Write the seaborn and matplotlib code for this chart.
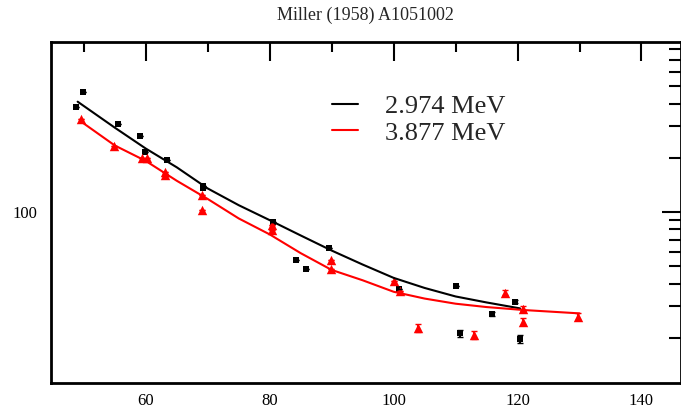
import matplotlib
matplotlib.use("Agg")
import matplotlib.pyplot as plt
from matplotlib.ticker import FixedLocator, NullFormatter, FixedFormatter
import seaborn as sns
import pandas as pd

# Measured angular distributions (angle in degrees, cross section)
sq_angle = [48.8, 49.8, 55.5, 59.1, 59.8, 63.4, 69.3, 69.3, 80.6, 84.3, 85.9, 89.6,
            100.9, 110.0, 110.7, 115.9, 119.6, 120.4]
sq_value = [381, 463, 307, 264, 216, 195, 139, 135, 88, 54, 48, 63,
            37.3, 38.8, 21.2, 27.1, 31.6, 19.7]
sq_err = [0, 0, 0, 0, 0, 0, 0, 0, 0, 0, 0, 0,
          0, 0, 1.0, 0.6, 0.6, 1.0]

tri_angle = [49.6, 54.8, 59.4, 60.2, 63.1, 63.1, 69.0, 69.0, 80.3, 80.3, 89.9, 89.9,
             100.1, 101.0, 104.0, 112.9, 117.9, 120.9, 120.9, 129.7]
tri_value = [327, 233, 200, 200, 167, 160, 124, 102, 85, 79, 54, 48,
             41.4, 36.5, 22.6, 20.7, 35.6, 29.0, 24.6, 26.2]
tri_err = [0, 0, 0, 0, 0, 0, 0, 0, 0, 0, 0, 0,
           0, 0, 1.2, 1.1, 1.0, 1.0, 1.2, 1.2]

# Calculated curves
curve1_angle = [49, 55, 60, 65, 70, 75, 80, 85, 90, 95, 100, 105, 110, 115, 120.4]
curve1_value = [410, 294, 225, 177, 135, 109, 90, 74, 61, 51, 43, 37.8, 33.9, 31.4, 29.1]
curve2_angle = [49.6, 55, 60, 65, 70, 75, 80, 85, 90, 95, 100, 105, 110, 115, 121, 130]
curve2_value = [317, 234, 192, 149, 118, 92, 75, 59, 47.6, 41.7, 36, 33, 30.9, 29.6, 28.5, 27.3]

labels = ["2.974 MeV", "3.877 MeV"]
title = "Miller (1958) A1051002"

sns.set_theme(style="white")
plt.rcParams["font.family"] = ["Liberation Serif", "DejaVu Serif"]

W, H = 681, 409
fig = plt.figure(figsize=(W / 100, H / 100), dpi=100)
ax = fig.add_axes([51 / W, 1 - 383 / H, (680.5 - 51) / W, (383 - 42) / H])

c1 = pd.DataFrame({"x": curve1_angle, "y": curve1_value})
c2 = pd.DataFrame({"x": curve2_angle, "y": curve2_value})
sns.lineplot(data=c1, x="x", y="y", sort=False, color="black", lw=1.5, ax=ax, label=labels[0])
sns.lineplot(data=c2, x="x", y="y", sort=False, color="red", lw=1.5, ax=ax, label=labels[1])

d1 = pd.DataFrame({"x": sq_angle, "y": sq_value, "e": sq_err})
d2 = pd.DataFrame({"x": tri_angle, "y": tri_value, "e": tri_err})
ax.errorbar(d1.x, d1.y, yerr=d1.e, fmt="none", ecolor="black", elinewidth=1.5, capsize=2)
ax.errorbar(d2.x, d2.y, yerr=d2.e, fmt="none", ecolor="red", elinewidth=1.5, capsize=2)
sns.scatterplot(data=d1, x="x", y="y", marker="s", s=22, color="black", linewidth=0, ax=ax, legend=False)
sns.scatterplot(data=d2, x="x", y="y", marker="^", s=46, color="red", linewidth=0, ax=ax, legend=False)

ax.set_yscale("log")
ax.set_xlim(44.7, 146.3)
ax.set_ylim(11.2, 880)
ax.set_xlabel("")
ax.set_ylabel("")

ax.xaxis.set_major_locator(FixedLocator([60, 80, 100, 120, 140]))
ax.xaxis.set_minor_locator(FixedLocator([50, 70, 90, 110, 130]))
ax.yaxis.set_major_locator(FixedLocator([10, 100, 1000]))
ax.yaxis.set_major_formatter(FixedFormatter(["10", "100", "1000"]))
ax.yaxis.set_minor_locator(FixedLocator([20, 30, 40, 50, 60, 70, 80, 90,
                                         200, 300, 400, 500, 600, 700, 800]))
ax.yaxis.set_minor_formatter(NullFormatter())

ax.tick_params(which="both", direction="in", top=True, right=True, colors="black",
               labelsize=12, width=1.5)
ax.tick_params(axis="x", which="major", length=14, pad=7)
ax.tick_params(axis="x", which="minor", length=7)
ax.tick_params(axis="y", which="major", length=14, pad=10)
ax.tick_params(axis="y", which="minor", length=9)
for s in ax.spines.values():
    s.set_color("black")
    s.set_linewidth(2)

ax.set_title(title, fontsize=13, pad=16)

leg = ax.legend(loc="upper left", bbox_to_anchor=(332 / W, 1 - 95 / H),
                bbox_transform=fig.transFigure, frameon=False, fontsize=19,
                handlelength=1.0, handletextpad=1.0, labelspacing=0.1,
                borderpad=0, borderaxespad=0)
for line in leg.get_lines():
    line.set_linewidth(1.5)

fig.savefig("out.png", dpi=100)
